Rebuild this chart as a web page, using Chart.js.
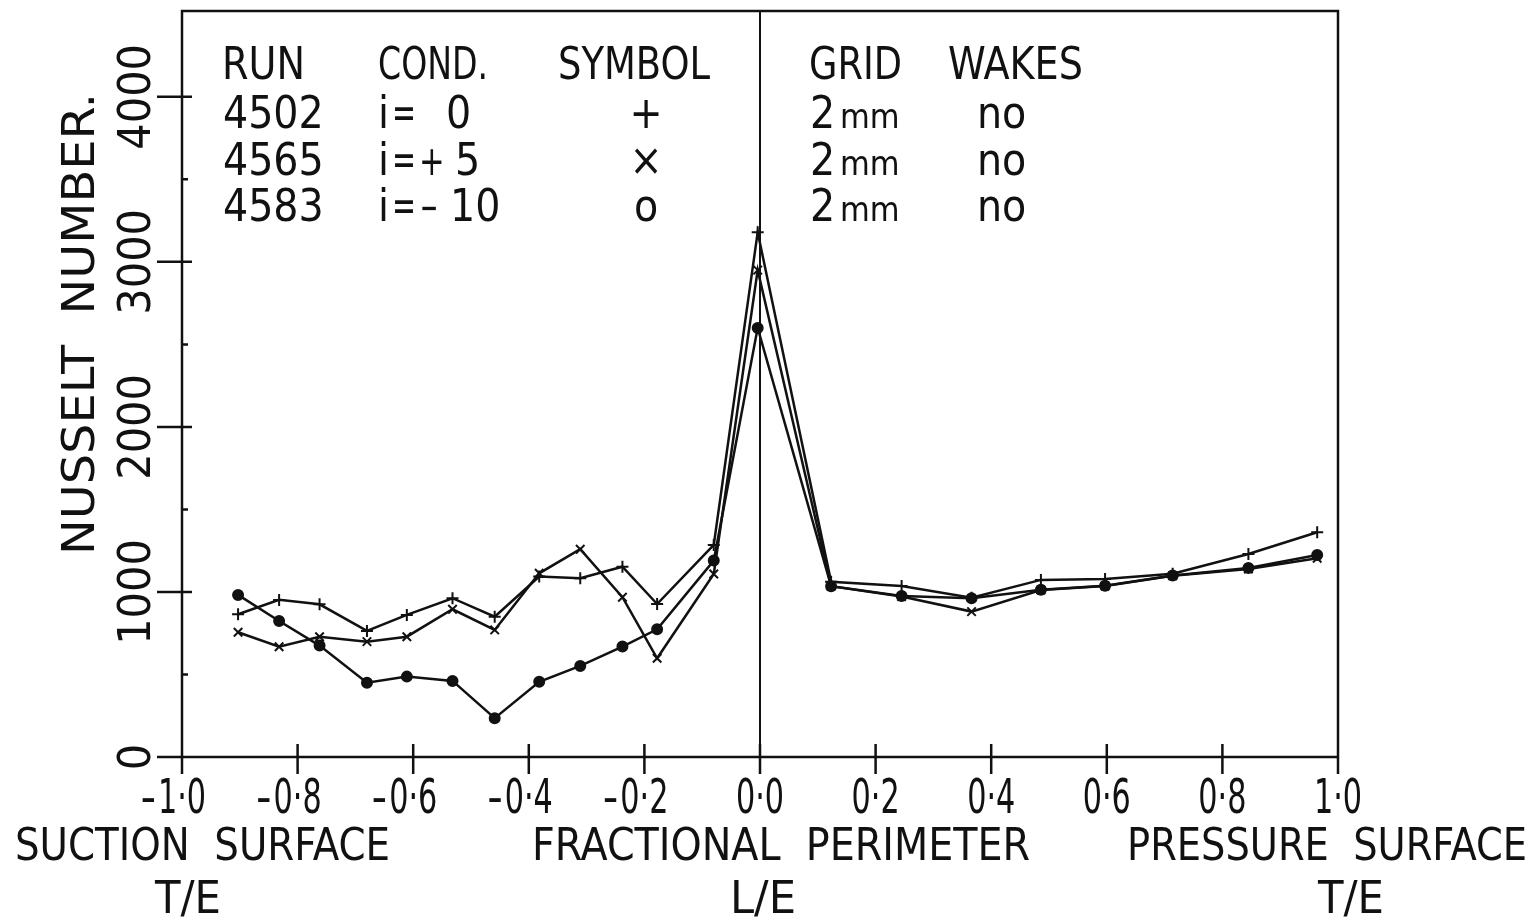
<!DOCTYPE html>
<html>
<head>
<meta charset="utf-8">
<script src="https://cdn.jsdelivr.net/npm/chart.js@4.4.1/dist/chart.umd.min.js"></script>
<style>
  html, body { margin: 0; padding: 0; background: #fff; }
  canvas { display: block; }
</style>
</head>
<body>
<canvas id="nusselt" width="1535" height="922"></canvas>
<script>
// Tapping positions along the blade (fractional perimeter), same for every run
const perimeter = [-0.903, -0.832, -0.762, -0.680, -0.611, -0.532, -0.459, -0.382, -0.311, -0.238, -0.178, -0.080,
  -0.004, 0.123, 0.245, 0.366, 0.486, 0.597, 0.714, 0.845, 0.964];

// Nusselt number per run
const run4502 = [865, 952, 925, 764, 861, 962, 850, 1093, 1083, 1153, 927, 1285,
  3180, 1062, 1036, 965, 1073, 1079, 1110, 1230, 1362];   // i = 0, "+"
const run4565 = [756, 668, 729, 699, 729, 895, 770, 1113, 1259, 968, 598, 1109,
  2950, 1035, 972, 881, 1012, 1036, 1098, 1139, 1204];    // i = +5, "x"
const run4583 = [982, 824, 675, 450, 487, 461, 235, 456, 552, 669, 774, 1190,
  2600, 1035, 975, 962, 1014, 1038, 1100, 1145, 1224];    // i = -10, "o"

// Axis ticks
const xTicks = [-1, -0.8, -0.6, -0.4, -0.2, 0, 0.2, 0.4, 0.6, 0.8, 1];
const yTicks = [0, 1000, 2000, 3000, 4000];
const yMinorTicks = [500, 1500, 2500, 3500];

// Key printed inside the plot
const legendHead = ['RUN', 'COND.', 'SYMBOL', 'GRID', 'WAKES'];
const legendRuns = ['4502', '4565', '4583'];
const legendSign = ['', '+', '−'];
const legendIncidence = ['0', '5', '10'];
const legendSymbols = ['+', '×', 'o'];

const INK = '#111';
const FONT = "'DejaVu Sans Condensed', 'DejaVu Sans', sans-serif";

// draw text; o.w squeezes/stretches it to a width, o.sx sets a fixed x-scale
function label(ctx, s, x, y, size, o = {}) {
  ctx.save();
  ctx.translate(x, y);
  if (o.rot) ctx.rotate(o.rot);
  ctx.font = size + 'px ' + FONT;
  const w = ctx.measureText(s).width;
  const sx = o.w ? o.w / w : (o.sx || 1);
  ctx.scale(sx, 1);
  const off = o.align === 'center' ? -w / 2 : o.align === 'right' ? -w : 0;
  ctx.fillStyle = INK;
  ctx.textBaseline = 'alphabetic';
  ctx.fillText(s, off, 0);
  ctx.restore();
}

const framePlugin = {
  id: 'frame',
  beforeDatasetsDraw(chart) {
    const { ctx, chartArea: a, scales: { x, y } } = chart;
    ctx.save();
    ctx.strokeStyle = INK;
    ctx.lineWidth = 2.5;
    ctx.beginPath();
    ctx.moveTo(a.left - 8, a.bottom);
    ctx.lineTo(a.right, a.bottom);
    ctx.moveTo(a.left, a.bottom);
    ctx.lineTo(a.left, a.top);
    ctx.lineTo(a.right, a.top);
    ctx.lineTo(a.right, a.bottom);
    xTicks.forEach(v => {
      const px = x.getPixelForValue(v);
      ctx.moveTo(px, a.bottom - 13);
      ctx.lineTo(px, a.bottom + 17);
    });
    yTicks.forEach(v => {
      const py = y.getPixelForValue(v);
      ctx.moveTo(a.left - 25, py);
      ctx.lineTo(a.left + 10, py);
    });
    yMinorTicks.forEach(v => {
      const py = y.getPixelForValue(v);
      ctx.moveTo(a.left, py);
      ctx.lineTo(a.left + 6, py);
    });
    ctx.stroke();

    // leading edge line
    const x0 = x.getPixelForValue(0);
    ctx.lineWidth = 2;
    ctx.beginPath();
    ctx.moveTo(x0, a.top);
    ctx.lineTo(x0, a.bottom);
    ctx.stroke();
    ctx.restore();
  },
  afterDraw(chart) {
    const { ctx, chartArea: a, scales: { x, y } } = chart;

    // x tick labels, digits centred on the tick, minus hung to the left
    xTicks.forEach(v => {
      const px = x.getPixelForValue(v);
      const s = Math.abs(v).toFixed(1).replace('.', '·');
      label(ctx, s, px, a.bottom + 56, 48, { align: 'center', sx: 0.7 });
      if (v < 0) label(ctx, '-', px - 26, a.bottom + 56, 48, { align: 'right' });
    });

    // y tick labels, rotated
    yTicks.forEach(v => {
      const py = y.getPixelForValue(v);
      label(ctx, String(v), a.left - 32, py, 44, { align: 'center', rot: -Math.PI / 2, sx: 1.05 });
    });
    label(ctx, 'NUSSELT  NUMBER.', 94, 324, 45, { align: 'center', rot: -Math.PI / 2, w: 462 });

    // axis captions below
    label(ctx, 'SUCTION  SURFACE', 15, 860, 44, { w: 375 });
    label(ctx, 'FRACTIONAL  PERIMETER', 532, 860, 44, { w: 498 });
    label(ctx, 'PRESSURE  SURFACE', 1127, 860, 44, { w: 400 });
    label(ctx, 'T/E', 155, 913, 45, { w: 66 });
    label(ctx, 'L/E', 730, 913, 45, { w: 66 });
    label(ctx, 'T/E', 1318, 913, 45, { w: 66 });

    // key
    const cols = [222, 378, 558, 809, 948];
    const widths = [83, 110, 152, 93, 135];
    legendHead.forEach((h, i) => label(ctx, h, cols[i], 79, 44, { w: widths[i] }));
    const rows = [128, 175, 221];
    rows.forEach((by, i) => {
      label(ctx, legendRuns[i], 223, by, 44);
      label(ctx, 'i', 378, by, 44);
      label(ctx, '=', 392, by, 44, { w: 24 });
      if (legendSign[i] === '+') label(ctx, '+', 419, by, 40, { sx: 0.85 });
      if (legendSign[i] === '−') label(ctx, '−', 420, by, 40, { sx: 0.6 });
      label(ctx, legendIncidence[i], i === 0 ? 446 : (i === 1 ? 455 : 450), by, 44);
      label(ctx, legendSymbols[i], 646, by, 44, { align: 'center' });
      label(ctx, '2', 810, by, 44);
      label(ctx, 'mm', 840, by, 34);
      label(ctx, 'no', 977, by, 44);
    });
  }
};

const toPoints = ys => perimeter.map((p, i) => ({ x: p, y: ys[i] }));

const lineStyle = {
  showLine: true,
  borderColor: INK,
  backgroundColor: INK,
  borderWidth: 2.5,
  tension: 0,
  pointBorderColor: INK,
  pointBackgroundColor: INK,
  pointBorderWidth: 2,
  clip: false
};

new Chart(document.getElementById('nusselt'), {
  type: 'scatter',
  data: {
    datasets: [
      { ...lineStyle, label: '4502', data: toPoints(run4502), pointStyle: 'cross', pointRadius: 6 },
      { ...lineStyle, label: '4565', data: toPoints(run4565), pointStyle: 'crossRot', pointRadius: 6 },
      { ...lineStyle, label: '4583', data: toPoints(run4583), pointStyle: 'circle', pointRadius: 5 }
    ]
  },
  options: {
    responsive: false,
    animation: false,
    devicePixelRatio: 1,
    layout: { padding: { left: 0, right: 197, top: 11, bottom: 0 } },
    plugins: { legend: { display: false }, tooltip: { enabled: false } },
    scales: {
      x: {
        type: 'linear', min: -1, max: 1,
        ticks: { display: false, stepSize: 0.2 },
        grid: { display: false, drawTicks: false },
        border: { display: false },
        afterFit: s => { s.height = 165; }
      },
      y: {
        type: 'linear', min: 0, max: 4520,
        ticks: { display: false, stepSize: 500 },
        grid: { display: false, drawTicks: false },
        border: { display: false },
        afterFit: s => { s.width = 182; }
      }
    }
  },
  plugins: [framePlugin]
});
</script>
</body>
</html>
